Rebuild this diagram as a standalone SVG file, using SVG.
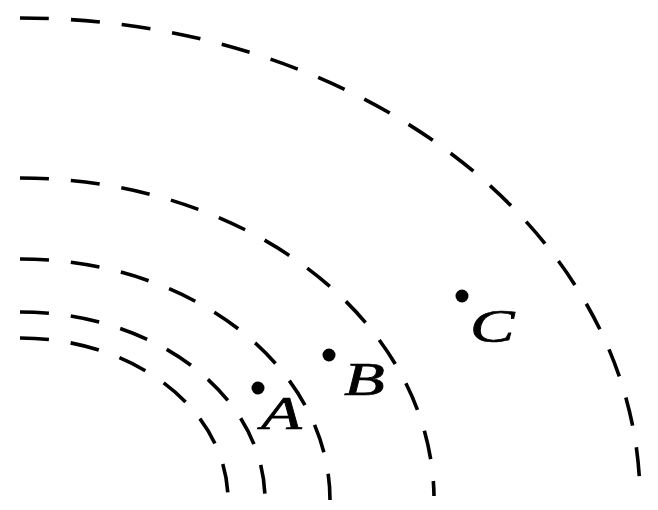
<svg xmlns="http://www.w3.org/2000/svg" width="658" height="510" viewBox="0 0 658 510">
<style>
.arc{fill:none;stroke:#000;stroke-width:3.6;stroke-dasharray:29 22}
.lbl{font-family:"Liberation Serif","Times New Roman",serif;font-style:italic;font-size:46px;fill:#000;stroke:#000;stroke-width:0.7}
</style>
<rect width="658" height="510" fill="#fff"/>
<g id="connectors">
<path class="arc" d="M20,18 A620,482 0 0 1 639.6,482"/>
<path class="arc" d="M20,178 A414,322 0 0 1 434,496"/>
<path class="arc" d="M20,259 A310,241 0 0 1 330,500"/>
<path class="arc" d="M20,312 A245,188 0 0 1 265,500"/>
<path class="arc" d="M20,338 A208,162 0 0 1 228,500"/>
</g>
<g id="A"><circle cx="258" cy="388" r="6.5"/><text class="lbl" transform="translate(261,429) scale(1.45,1)">A</text></g>
<g id="B"><circle cx="329" cy="355" r="6.5"/><text class="lbl" transform="translate(344,395) scale(1.45,1)">B</text></g>
<g id="C"><circle cx="462" cy="296" r="6.5"/><text class="lbl" transform="translate(470,342) scale(1.45,1)">C</text></g>
</svg>
